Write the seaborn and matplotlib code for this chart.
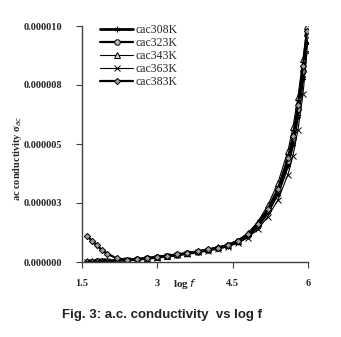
import matplotlib
matplotlib.use("Agg")
import matplotlib.pyplot as plt
import seaborn as sns
import pandas as pd

logf = [1.6, 1.7, 1.8, 1.9, 2.0, 2.2, 2.4, 2.6, 2.8, 3.0, 3.2, 3.4, 3.6, 3.8,
        4.0, 4.2, 4.4, 4.6, 4.8, 5.0, 5.2, 5.4, 5.6, 5.7, 5.8, 5.9, 5.98]

# conductivity in units of 1e-6 S/m
s308 = [0.02, 0.02, 0.03, 0.03, 0.04, 0.06, 0.08, 0.11, 0.15, 0.20, 0.25, 0.30, 0.36, 0.42,
        0.50, 0.58, 0.68, 0.85, 1.10, 1.50, 2.10, 2.90, 4.10, 5.00, 6.20, 7.80, 9.30]
s323 = [0.02, 0.02, 0.03, 0.04, 0.05, 0.07, 0.09, 0.12, 0.16, 0.21, 0.26, 0.31, 0.37, 0.44,
        0.52, 0.60, 0.71, 0.88, 1.15, 1.58, 2.20, 3.05, 4.30, 5.25, 6.50, 8.10, 9.60]
s343 = [0.03, 0.03, 0.04, 0.04, 0.05, 0.07, 0.10, 0.13, 0.17, 0.22, 0.27, 0.32, 0.38, 0.45,
        0.53, 0.62, 0.73, 0.91, 1.22, 1.70, 2.40, 3.35, 4.70, 5.70, 7.00, 8.60, 10.00]
s363 = [0.02, 0.02, 0.02, 0.03, 0.04, 0.06, 0.08, 0.10, 0.14, 0.19, 0.24, 0.29, 0.35, 0.41,
        0.48, 0.56, 0.65, 0.80, 1.02, 1.38, 1.92, 2.62, 3.70, 4.50, 5.60, 7.10, 8.90]
s383 = [1.10, 0.90, 0.70, 0.50, 0.35, 0.15, 0.10, 0.12, 0.16, 0.22, 0.27, 0.32, 0.38, 0.45,
        0.53, 0.61, 0.72, 0.90, 1.18, 1.62, 2.25, 3.10, 4.40, 5.35, 6.65, 8.30, 9.80]

labels = ["cac308K", "cac323K", "cac343K", "cac363K", "cac383K"]
series = [s308, s323, s343, s363, s383]

yticks = [0.0, 2.5e-6, 5.0e-6, 7.5e-6, 1.0e-5]
ytick_labels = ["0.000000", "0.000003", "0.000005", "0.000008", "0.000010"]
xticks = [1.5, 3, 4.5, 6]
xtick_labels = ["1.5", "3", "4.5", "6"]

sns.set_style("white")
plt.rcParams["font.family"] = ["Liberation Serif", "DejaVu Serif"]

fig = plt.figure(figsize=(3.41, 3.37), dpi=100)
ax = fig.add_axes([82/341, 1-262/337, (308-82)/341, (262-26)/337])

styles = [
    dict(marker=(6, 2, 0), lw=2.0, ms=4, mfc="black", mec="black"),
    dict(marker="o", lw=1.6, ms=4, mfc="#bdbdbd", mec="black"),
    dict(marker="^", lw=0.8, ms=4.5, mfc="#d9d9d9", mec="black"),
    dict(marker="x", lw=0.8, ms=4, mfc="black", mec="black"),
    dict(marker="D", lw=1.6, ms=3.2, mfc="#9e9e9e", mec="black"),
]

for lab, vals, st in zip(labels, series, styles):
    df = pd.DataFrame({"logf": logf, "sigma": [v * 1e-6 for v in vals]})
    sns.lineplot(data=df, x="logf", y="sigma", ax=ax, color="black",
                 linewidth=st["lw"], marker=st["marker"], markersize=st["ms"],
                 markerfacecolor=st["mfc"], markeredgecolor=st["mec"],
                 markeredgewidth=0.7, label=lab)

ax.set_xlim(1.5, 6)
ax.set_ylim(0, 1.0e-5)
ax.set_xticks(xticks)
ax.set_xticklabels(xtick_labels, fontsize=7.5, fontweight="bold")
ax.set_yticks(yticks)
ax.set_yticklabels(ytick_labels, fontsize=7.5, fontweight="bold")
ax.set_xlabel("")
ax.set_ylabel("")
for s in ["top", "right"]:
    ax.spines[s].set_visible(False)
for s in ["left", "bottom"]:
    ax.spines[s].set_color("#404040")
    ax.spines[s].set_linewidth(1.0)
ax.tick_params(axis="both", direction="out", length=4, width=0.8, color="#404040",
               pad=10, left=True, bottom=True)
ax.tick_params(axis="x", pad=8)

leg = ax.legend(loc="upper left", bbox_to_anchor=(0.06, 1.03), frameon=False,
                fontsize=8.5, handlelength=2.8, labelspacing=0.1,
                handletextpad=0.2, borderaxespad=0)

fig.text(185/341, 1-284/337, "log $\\it{f}$", fontsize=8, fontweight="bold",
         ha="center", va="center")
fig.text(18/341, 1-158/337, "ac conductivity σ$_{ac}$", fontsize=7.5, rotation=90,
         fontweight="bold", ha="center", va="center")
fig.text(162/341, 1-315/337, "Fig. 3: a.c. conductivity  vs log f",
         fontsize=9.5, fontweight="bold", family=["Liberation Sans", "DejaVu Sans"],
         ha="center", va="center", color="#222222")

fig.savefig("out.png", dpi=100)
